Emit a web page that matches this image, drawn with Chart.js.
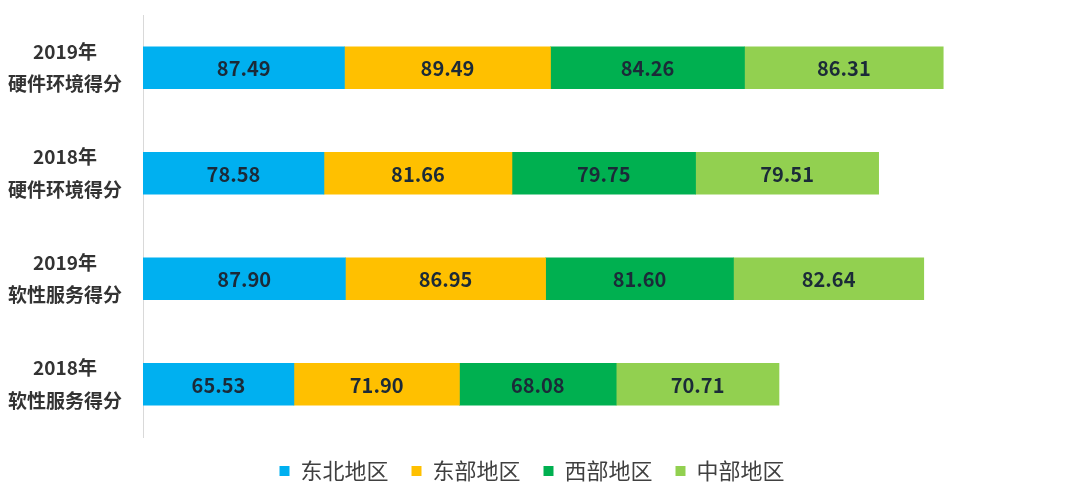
<!DOCTYPE html>
<html>
<head>
<meta charset="utf-8">
<script src="https://cdn.jsdelivr.net/npm/chart.js@4/dist/chart.umd.min.js"></script>
<style>
  html, body { margin: 0; padding: 0; background: #fff; }
  #wrap { width: 1080px; height: 492px; }
</style>
</head>
<body>
<div id="wrap"><canvas id="chart"></canvas></div>
<script>
// categories (two-line labels)
const categories = [
    ['2019年', '硬件环境得分'],
    ['2018年', '硬件环境得分'],
    ['2019年', '软性服务得分'],
    ['2018年', '软性服务得分']
];

// series
const seriesNames = ['东北地区', '东部地区', '西部地区', '中部地区'];
const northeast = [87.49, 78.58, 87.90, 65.53];
const east      = [89.49, 81.66, 86.95, 71.90];
const west      = [84.26, 79.75, 81.60, 68.08];
const central   = [86.31, 79.51, 82.64, 70.71];
const colors = ['#00B0F0', '#FFC000', '#00B050', '#92D050'];

const seriesValues = [northeast, east, west, central];

// draws the value in the middle of each bar segment
const barValueLabels = {
    id: 'barValueLabels',
    afterDatasetsDraw(chart) {
        const ctx = chart.ctx;
        ctx.save();
        ctx.font = 'bold 20px "Noto Sans CJK SC", "Noto Sans", sans-serif';
        ctx.fillStyle = '#1b2a38';
        ctx.textAlign = 'center';
        ctx.textBaseline = 'middle';
        chart.data.datasets.forEach((ds, i) => {
            const meta = chart.getDatasetMeta(i);
            meta.data.forEach((bar, j) => {
                const p = bar.getCenterPoint();
                ctx.fillText(ds.data[j].toFixed(2), p.x, p.y + 1);
            });
        });
        ctx.restore();
    }
};

const ctx = document.getElementById('chart').getContext('2d');
new Chart(ctx, {
    type: 'bar',
    data: {
        labels: categories,
        datasets: seriesNames.map((name, i) => ({
            label: name,
            data: seriesValues[i],
            backgroundColor: colors[i],
            borderWidth: 0,
            barThickness: 42
        }))
    },
    options: {
        indexAxis: 'y',
        responsive: true,
        maintainAspectRatio: false,
        animation: false,
        layout: {
            padding: { top: 15, right: 16, bottom: 0, left: 0 }
        },
        plugins: {
            legend: {
                position: 'bottom',
                maxHeight: 59,
                labels: {
                    boxWidth: 10,
                    boxHeight: 10,
                    padding: 23,
                    color: '#404040',
                    font: { family: '"Noto Sans CJK SC", sans-serif', size: 22 }
                }
            },
            tooltip: { enabled: false }
        },
        scales: {
            x: {
                stacked: true,
                display: false,
                min: 0,
                max: 400
            },
            y: {
                stacked: true,
                grid: { display: false, drawTicks: false },
                border: { display: true, color: '#d9d9d9', width: 1 },
                afterFit: (scale) => {
                    scale.width = 143;
                    // labels are two lines, don't let them push the plot down
                    scale.paddingTop = 0;
                    scale.paddingBottom = 0;
                },
                ticks: {
                    crossAlign: 'center',
                    padding: 21,
                    color: '#333333',
                    font: {
                        family: '"Noto Sans CJK SC", sans-serif',
                        size: 19,
                        weight: 'bold',
                        lineHeight: 1.7
                    }
                }
            }
        }
    },
    plugins: [barValueLabels]
});
</script>
</body>
</html>
